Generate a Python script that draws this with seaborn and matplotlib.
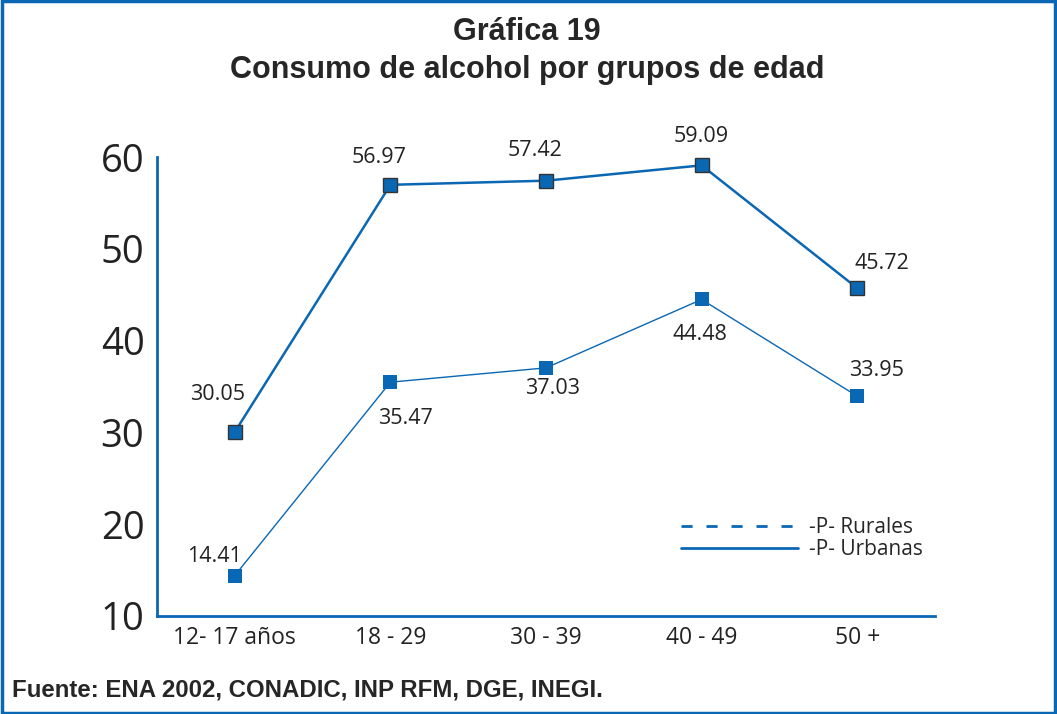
import pandas as pd
import matplotlib.pyplot as plt
import seaborn as sns
from matplotlib.lines import Line2D
from matplotlib.patches import Rectangle

edades = ["12- 17 años", "18 - 29", "30 - 39", "40 - 49", "50 +"]
urbanas = [30.05, 56.97, 57.42, 59.09, 45.72]
rurales = [14.41, 35.47, 37.03, 44.48, 33.95]
etiq_urb = ["30.05", "56.97", "57.42", "59.09", "45.72"]
etiq_rur = ["14.41", "35.47", "37.03", "44.48", "33.95"]

df = pd.DataFrame({
    "edad": edades * 2,
    "pct": urbanas + rurales,
    "grupo": ["Urbanas"] * 5 + ["Rurales"] * 5,
})

sns.set_style("white")
plt.rcParams["font.family"] = ["Open Sans", "DejaVu Sans"]

azul = "#0a67b3"
fig = plt.figure(figsize=(10.57, 7.14), dpi=100)
ax = fig.add_axes([157 / 1057, 1 - 616 / 714, (935 - 157) / 1057, (616 - 157) / 714])

sns.lineplot(data=df[df.grupo == "Urbanas"], x="edad", y="pct", ax=ax, color=azul,
             lw=1.8, marker="s", markersize=10, markerfacecolor=azul,
             markeredgecolor="#333333", markeredgewidth=1, clip_on=False)
sns.lineplot(data=df[df.grupo == "Rurales"], x="edad", y="pct", ax=ax, color=azul,
             lw=1.0, marker="s", markersize=10, markerfacecolor=azul,
             markeredgewidth=0, clip_on=False)

# etiquetas (desplazamiento en pixeles)
off_urb = [(-17, 37), (-11, 27), (-11, 30), (0, 29), (25, 25)]
off_rur = [(-20, 19), (15, -36), (7, -21), (-2, -35), (19, 26)]
for i in range(5):
    ax.annotate(etiq_urb[i], (i, urbanas[i]), xytext=off_urb[i], textcoords="offset pixels",
                ha="center", va="center", fontsize=15.5, color="#222222")
    ax.annotate(etiq_rur[i], (i, rurales[i]), xytext=off_rur[i], textcoords="offset pixels",
                ha="center", va="center", fontsize=15.5, color="#222222")

ax.set_xlim(-0.5, 4.5)
ax.set_ylim(10, 60)
ax.set_yticks([10, 20, 30, 40, 50, 60])
ax.set_xlabel("")
ax.set_ylabel("")
ax.set_xticks(range(5))
ax.set_xticklabels(edades)
ax.set_xticks([0.5, 1.5, 2.5, 3.5, 4.5], minor=True)
ax.tick_params(axis="x", which="major", length=0, labelsize=16.5, pad=7, labelcolor="#222222")
ax.tick_params(axis="x", which="minor", direction="in", length=7, width=1.5, color="#333333")
ax.tick_params(axis="y", direction="in", length=14, width=1.5, color="#333333",
               labelsize=27.5, pad=9, labelcolor="#222222")
for s in ["top", "right"]:
    ax.spines[s].set_visible(False)
for s in ["left", "bottom"]:
    ax.spines[s].set_color(azul)
    ax.spines[s].set_linewidth(2)

handles = [Line2D([], [], color=azul, lw=2, ls=(0, (4, 5))),
           Line2D([], [], color=azul, lw=2)]
ax.legend(handles, ["-P- Rurales", "-P- Urbanas"], loc="upper left",
          bbox_to_anchor=(0.66, 0.238), frameon=False, fontsize=15,
          handlelength=5.6, handletextpad=0.55, labelspacing=0.05, borderpad=0)

fig.text(527 / 1057, 1 - 32 / 714, "Gráfica 19", ha="center", va="center",
         fontsize=22, fontweight="bold", family="Liberation Sans")
fig.text(527 / 1057, 1 - 70 / 714, "Consumo de alcohol por grupos de edad", ha="center",
         va="center", fontsize=22, fontweight="bold", family="Liberation Sans")
fig.text(12 / 1057, 1 - 690 / 714, "Fuente: ENA 2002, CONADIC, INP RFM, DGE, INEGI.",
         ha="left", va="center", fontsize=17.3, fontweight="bold", family="Liberation Sans")

fig.patches.append(Rectangle((0.0015, 0.002), 0.997, 0.996, transform=fig.transFigure,
                             fill=False, edgecolor=azul, lw=2.5))

fig.savefig("out.png", dpi=100)
